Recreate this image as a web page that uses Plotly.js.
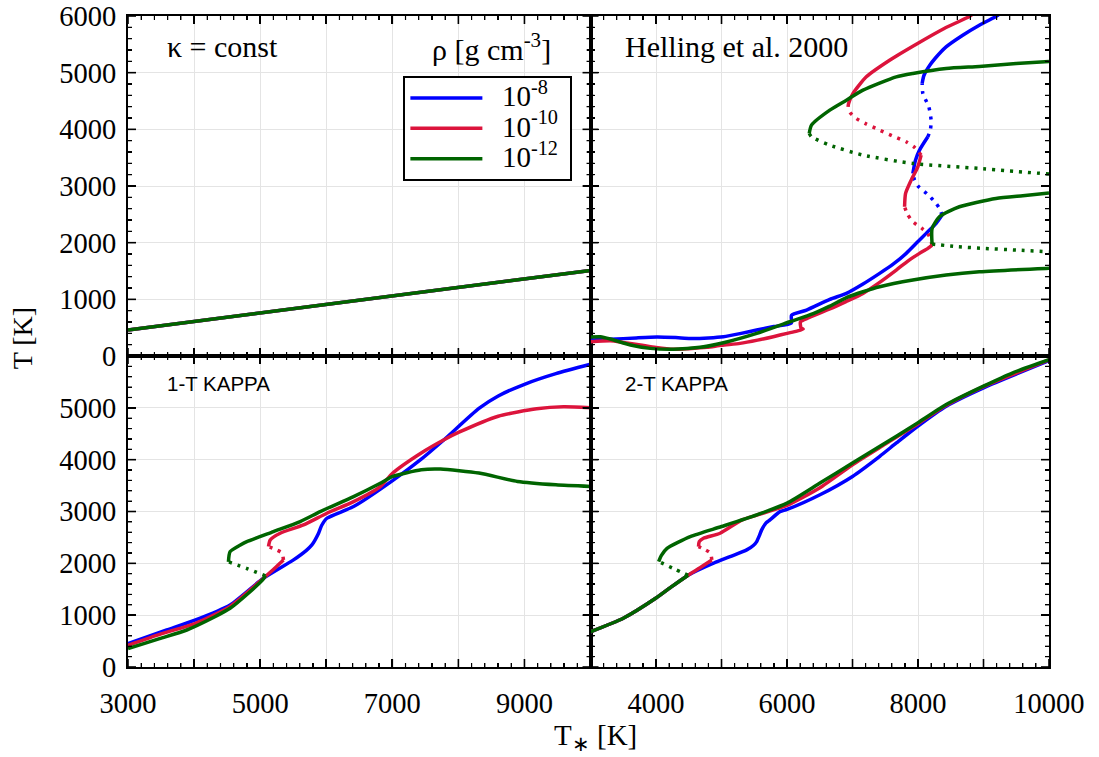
<!DOCTYPE html>
<html>
<head>
<meta charset="utf-8">
<script src="https://cdn.plot.ly/plotly-3.0.1.min.js"></script>
<style>html,body{margin:0;padding:0;background:#fff;}#chart{width:1099px;height:757px;}</style>
</head>
<body>
<div id="chart"></div>
<script>
// ---------- DATA (T* [K], T [K]) ----------
// Panel 1: kappa = const (all densities coincide)
const kconstTstar = [3000, 4000, 5000, 6000, 7000, 8000, 9000, 10000];
const kconstT     = [460, 610, 760, 915, 1070, 1215, 1365, 1510];

// Panel 2: Helling et al. 2000
const p2BlueSolid = [
  [[3000,282],[3300,294],[3700,320],[4015,335],[4300,325],[4522,311],[4800,320],[5029,341],[5300,400],[5537,458],[5800,520],[6065,580],[6069,720],[6298,811],[6653,1000],[6907,1105],[7160,1270],[7414,1458],[7620,1620],[7820,1811],[8000,2020],[8125,2164],[8277,2340],[8368,2487]],
  [[7921,3222],[7960,3450],[8023,3633],[8150,3868]],
  [[8063,4809],[8090,4950],[8180,5130],[8260,5250],[8429,5455],[8683,5661],[8936,5838],[9190,5990],[9230,6020]]
];
const p2BlueDot = [
  [[8368,2487],[8330,2600],[8277,2693],[8150,2850],[8000,3000],[7947,3104],[7921,3222]],
  [[8150,3868],[8190,4000],[8200,4162],[8165,4397],[8074,4633],[8063,4809]]
];
const p2RedSolid = [
  [[3000,253],[3304,270],[3500,240],[3761,194],[4000,150],[4268,118],[4500,130],[4776,153],[5000,190],[5283,223],[5550,280],[5790,341],[6000,400],[6150,440],[6247,475],[6215,495],[6205,600],[6300,660],[6653,830],[6900,960],[7160,1105],[7414,1300],[7668,1517],[7850,1680],[8023,1811],[8150,1900],[8216,1958]],
  [[7795,2633],[7810,2869],[7896,3104],[7997,3339],[8048,3545]],
  [[6932,4397],[6940,4456],[7008,4633],[7211,4927],[7566,5220],[8000,5520],[8400,5780],[8784,5990],[8820,6020]]
];
const p2RedDot = [
  [[8216,1958],[8150,2164],[8050,2260],[7921,2369],[7840,2500],[7795,2633]],
  [[8048,3545],[7950,3680],[7820,3780],[7600,3890],[7414,3986],[7200,4100],[7059,4192],[6960,4300],[6932,4397]]
];
const p2GreenSolid = [
  [[3000,335],[3152,341],[3304,300],[3609,194],[3913,135],[4268,118],[4674,153],[5029,235],[5537,400],[6044,605],[6400,750],[6653,880],[6907,1030],[7160,1134],[7414,1222],[7921,1340],[8429,1429],[8936,1487],[9951,1546],[10000,1548]],
  [[8215,1975],[8215,2250],[8327,2457],[8632,2634],[9190,2781],[9600,2830],[10000,2875]],
  [[6339,3927],[6374,4074],[6653,4339],[6907,4515],[7160,4692],[7668,4927],[7921,4986],[8429,5074],[8936,5110],[9500,5160],[10000,5195]]
];
const p2GreenDot = [
  [[8215,1975],[8600,1930],[9000,1900],[9500,1870],[10000,1840]],
  [[10000,3210],[8936,3310],[7921,3398],[7160,3545],[6653,3721],[6374,3868],[6339,3927]]
];

// Panel 3: 1-T KAPPA
const p3BlueSolid = [
  [[3000,452],[3586,714],[4013,903],[4545,1197],[5050,1712],[5505,2066],[5700,2250],[5783,2355],[5830,2450],[5884,2581],[5930,2730],[6010,2870],[6414,3095],[7020,3610],[7438,4010],[7787,4390],[8311,4990],[8603,5230],[9010,5460],[9476,5660],[10000,5840]]
];
const p3BlueDot = [];
const p3RedSolid = [
  [[3000,419],[3500,640],[4013,839],[4545,1170],[5050,1712],[5200,1880],[5300,2000],[5353,2066]],
  [[5126,2323],[5152,2452],[5303,2581],[5656,2741],[6010,2967],[6414,3191],[6818,3481],[7007,3742],[7438,4130],[7790,4390],[8009,4530],[8603,4839],[9185,4981],[9593,5019],[10000,5000]]
];
const p3RedDot = [
  [[5353,2066],[5330,2200],[5230,2270],[5126,2323]]
];
const p3GreenSolid = [
  [[3000,355],[3478,548],[3889,714],[4300,960],[4545,1133],[4817,1419],[5050,1700],[5079,1760]],
  [[4520,2030],[4545,2226],[4701,2355],[4798,2419],[5202,2612],[5606,2805],[5909,2998],[6414,3288],[6818,3546],[7007,3677],[7438,3806],[7729,3819],[8311,3742],[8894,3581],[9476,3516],[10000,3484]]
];
const p3GreenDot = [
  [[5079,1760],[4800,1900],[4520,2030]]
];

// Panel 4: 2-T KAPPA
const p4BlueSolid = [
  [[3000,680],[3500,940],[4000,1330],[4250,1560],[4490,1770],[4877,2002],[5131,2130],[5385,2259],[5490,2350],[5537,2419],[5580,2540],[5613,2645],[5680,2780],[5740,2838],[5892,2998],[6000,3040],[6503,3323],[7000,3677],[7416,4065],[7670,4323],[7995,4645],[8431,5032],[9000,5387],[10000,5910]]
];
const p4BlueDot = [];
const p4RedSolid = [
  [[3000,680],[3500,940],[4000,1330],[4250,1560],[4490,1770],[4700,1940],[4852,2066]],
  [[4649,2323],[4660,2420],[4724,2484],[4978,2581],[5300,2830],[5538,2930],[6000,3120],[6503,3460],[7000,3903],[7500,4300],[7995,4690],[8431,5050],[9000,5410],[10000,5925]]
];
const p4RedDot = [
  [[4852,2066],[4830,2200],[4740,2270],[4649,2323]]
];
const p4GreenSolid = [
  [[3000,680],[3500,940],[4000,1330],[4250,1560],[4490,1770]],
  [[4040,2033],[4080,2150],[4168,2290],[4523,2516],[5000,2710],[5538,2935],[6000,3161],[6503,3548],[7000,3935],[7670,4452],[7995,4710],[8431,5065],[9000,5419],[9447,5677],[10000,5930]]
];
const p4GreenDot = [
  [[4490,1770],[4300,1880],[4050,2030]]
];

const legendNames = ['10<sup>-8</sup>', '10<sup>-10</sup>', '10<sup>-12</sup>'];

// ---------- STYLE ----------
const colors = ['#0000ff', '#dc143c', '#006400'];
const LW = 3.5;
const DOT = '3px,6px';
const serif = 'Liberation Serif, Times New Roman, serif';
const sans = 'Liberation Sans, Arial, sans-serif';

function join(segs) {
  const x = [], y = [];
  segs.forEach((s, i) => {
    if (i > 0) { x.push(null); y.push(null); }
    s.forEach(p => { x.push(p[0]); y.push(p[1]); });
  });
  return {x, y};
}

const traces = [];
colors.forEach((c, i) => {
  traces.push({x: kconstTstar, y: kconstT, xaxis: 'x', yaxis: 'y', mode: 'lines',
    name: '<span style="font-size:29px">\u00a0\u00a0' + legendNames[i] + '\u00a0</span>',
    line: {color: c, width: LW}, showlegend: true, hoverinfo: 'skip'});
});

function addPanel(xa, ya, sets) {
  sets.forEach((set, i) => {
    const s = join(set[0]);
    traces.push({x: s.x, y: s.y, xaxis: xa, yaxis: ya, mode: 'lines', line: {color: colors[i], width: LW, shape: 'spline', smoothing: 0.6},
      connectgaps: false, showlegend: false, hoverinfo: 'skip'});
    if (set[1].length) {
      const d = join(set[1]);
      traces.push({x: d.x, y: d.y, xaxis: xa, yaxis: ya, mode: 'lines', line: {color: colors[i], width: LW, dash: DOT, shape: 'spline', smoothing: 0.6},
        connectgaps: false, showlegend: false, hoverinfo: 'skip'});
    }
  });
}
addPanel('x2', 'y2', [[p2BlueSolid, p2BlueDot], [p2RedSolid, p2RedDot], [p2GreenSolid, p2GreenDot]]);
addPanel('x3', 'y3', [[p3BlueSolid, p3BlueDot], [p3RedSolid, p3RedDot], [p3GreenSolid, p3GreenDot]]);
addPanel('x4', 'y4', [[p4BlueSolid, p4BlueDot], [p4RedSolid, p4RedDot], [p4GreenSolid, p4GreenDot]]);

function ax(range, anchor, domain, showLabels, alias, isX) {
  const a = {
    range: range, domain: domain, anchor: anchor,
    showline: true, linecolor: 'black', linewidth: 2, mirror: 'allticks',
    ticks: 'inside', ticklen: 8, tickwidth: 1.6, tickcolor: 'black', dtick: 1000,
    minor: {tickmode: 'linear', tick0: 0, dtick: 200, ticks: 'inside', ticklen: 4, tickwidth: 1.2, tickcolor: 'black', showgrid: false},
    showticklabels: showLabels, labelalias: alias,
    gridcolor: '#e4e4e4',
    tickfont: {family: serif, size: 28.5, color: 'black'}
  };
  if (isX) { a.tickformat = 'd'; a.ticklabelstandoff = 10; } else { a.ticklabelstandoff = 4; }
  return a;
}

// Tick marks on all four sides of each panel (major every 1000, minor every 200),
// drawn as pixel-length marks anchored to the axes so they are always visible.
function tickMarks(xa, ya) {
  const out = [];
  const xd = xa + ' domain', yd = ya + ' domain';
  for (let v = 3000; v <= 10000; v += 200) {
    const major = v % 1000 === 0, len = major ? 8 : 4, w = major ? 1.6 : 1.2;
    out.push({type: 'line', xref: xa, yref: yd, x0: v, x1: v, ysizemode: 'pixel', yanchor: 0, y0: 0, y1: len, line: {color: 'black', width: w}});
    out.push({type: 'line', xref: xa, yref: yd, x0: v, x1: v, ysizemode: 'pixel', yanchor: 1, y0: 0, y1: -len, line: {color: 'black', width: w}});
  }
  for (let v = 0; v <= 6000; v += 200) {
    const major = v % 1000 === 0, len = major ? 8 : 4, w = major ? 1.6 : 1.2;
    out.push({type: 'line', xref: xd, yref: ya, y0: v, y1: v, xsizemode: 'pixel', xanchor: 0, x0: 0, x1: len, line: {color: 'black', width: w}});
    out.push({type: 'line', xref: xd, yref: ya, y0: v, y1: v, xsizemode: 'pixel', xanchor: 1, x0: 0, x1: -len, line: {color: 'black', width: w}});
  }
  return out;
}
const shapes = [].concat(tickMarks('x', 'y'), tickMarks('x2', 'y2'), tickMarks('x3', 'y3'), tickMarks('x4', 'y4'));

const xL = [0, 0.5022], xR = [0.5022, 1];
const yU = [0.4777, 1], yD = [0, 0.4777];
const aliasXL = {'4000': '', '6000': '', '8000': '', '10000': ''};
const aliasXR = {'3000': '', '5000': '', '7000': '', '9000': ''};
const aliasYD = {'6000': ''};

const layout = {
  width: 1099, height: 757,
  margin: {l: 128, r: 50, t: 16, b: 90},
  paper_bgcolor: 'white', plot_bgcolor: 'white',
  font: {family: serif, color: 'black'},
  xaxis:  ax([3000, 10000], 'y', xL, false, {}, true),
  yaxis:  ax([0, 6000], 'x', yU, true, {}, false),
  xaxis2: ax([3000, 10000], 'y2', xR, false, {}, true),
  yaxis2: ax([0, 6000], 'x2', yU, false, {}, false),
  xaxis3: ax([3000, 10000], 'y3', xL, true, aliasXL, true),
  yaxis3: ax([0, 6000], 'x3', yD, true, aliasYD, false),
  xaxis4: ax([3000, 10000], 'y4', xR, true, aliasXR, true),
  yaxis4: ax([0, 6000], 'x4', yD, false, {}, false),
  shapes: shapes,
  legend: {x: 0.299, y: 0.908, xanchor: 'left', yanchor: 'top', bgcolor: 'white', bordercolor: 'black', borderwidth: 2,
    font: {family: serif, size: 21, color: 'black'}, itemwidth: 72, tracegroupgap: 0},
  annotations: [
    {text: 'κ = const', xref: 'paper', yref: 'paper', x: 0.04, y: 0.953, xanchor: 'left', yanchor: 'middle', showarrow: false, font: {family: serif, size: 30}},
    {text: 'ρ [g cm<sup>-3</sup>]', xref: 'paper', yref: 'paper', x: 0.3946, y: 0.952, xanchor: 'center', yanchor: 'middle', showarrow: false, font: {family: serif, size: 30}},
    {text: 'Helling et al. 2000', xref: 'paper', yref: 'paper', x: 0.538, y: 0.953, xanchor: 'left', yanchor: 'middle', showarrow: false, font: {family: serif, size: 30}},
    {text: '1-T KAPPA', xref: 'paper', yref: 'paper', x: 0.04, y: 0.436, xanchor: 'left', yanchor: 'middle', showarrow: false, font: {family: sans, size: 20.5}},
    {text: '2-T KAPPA', xref: 'paper', yref: 'paper', x: 0.538, y: 0.436, xanchor: 'left', yanchor: 'middle', showarrow: false, font: {family: sans, size: 20.5}},
    {text: 'T [K]', xref: 'paper', yref: 'paper', x: -0.115, y: 0.505, xanchor: 'center', yanchor: 'middle', textangle: -90, showarrow: false, font: {family: serif, size: 28}},
    {text: 'T<sub><span style="font-size:21px">∗</span></sub> [K]', xref: 'paper', yref: 'paper', x: 0.508, y: -0.108, xanchor: 'center', yanchor: 'middle', showarrow: false, font: {family: serif, size: 29}}
  ]
};

Plotly.newPlot('chart', traces, layout, {staticPlot: true, displayModeBar: false});
</script>
</body>
</html>
